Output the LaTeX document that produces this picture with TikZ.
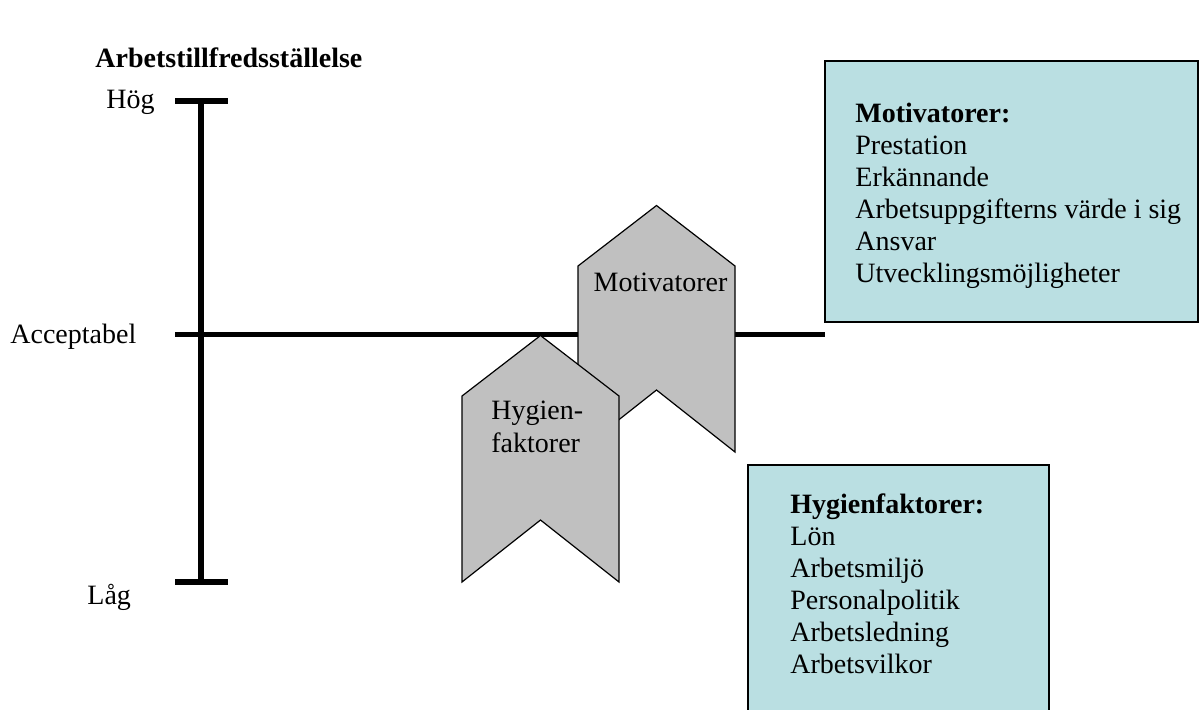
\documentclass[tikz,border=0pt]{standalone}
\usepackage{fontspec}
\setmainfont{Liberation Serif}
\usetikzlibrary{positioning, calc}
\definecolor{chevgray}{RGB}{192, 192, 192}
\definecolor{boxcyan}{RGB}{186, 223, 226}
\newcommand{\hzchevron}[3]{%
    \begin{scope}[shift={(#1,#2)}]
        % Chevron body, point up, notch at the bottom
        \filldraw[chevron] (0,0) -- (78.5,-60.5) -- (157,0) -- (157,186)
            -- (78.5,124) -- (0,186) -- cycle;
        \coordinate (#3) at (78.5,93);
    \end{scope}
}

\begin{document}
\begin{tikzpicture}[
    x=0.5pt, y=-0.5pt,
    every node/.style={font=\fontsize{14}{16}\selectfont, inner sep=0pt},
    axis line/.style={line width=2.6pt},
    chevron/.style={fill=chevgray, draw=black, line width=0.6pt},
    info box/.style={fill=boxcyan, draw=black, line width=1pt},
    box text/.style={align=left, anchor=north west}
]
\useasboundingbox (0,0) rectangle (1199,709);
\clip (0,0) rectangle (1199,709);

% =============================================
% Title and scale
% =============================================

\node[font=\fontsize{14}{16}\selectfont\bfseries, anchor=base west] (title)
    at (95,67) {Arbetstillfredsställelse};

\coordinate (hog) at (201,101);
\coordinate (acc) at (201,334.5);
\coordinate (lag) at (201,582);
\coordinate (accend) at (825,334.5);

% Vertical scale with ticks
\draw[axis line] (hog) -- (lag);
\draw[axis line] ($(hog)+(-26,0)$) -- ($(hog)+(27,0)$);
\draw[axis line] ($(lag)+(-26,0)$) -- ($(lag)+(27,0)$);

% Acceptable level
\draw[axis line] ($(acc)+(-26,0)$) -- (accend);

\node[anchor=base west] (hoglbl) at (106,108) {Hög};
\node[anchor=base west] (acclbl) at (10,343) {Acceptabel};
\node[anchor=base west] (laglbl) at (87,604) {Låg};

% =============================================
% Chevrons
% =============================================

\hzchevron{578}{266}{motiv}
\node[anchor=base] (motivlbl) at (660.5,291.7) {Motivatorer};

\hzchevron{462}{396}{hygien}
\node[box text, font=\fontsize{14}{16.5}\selectfont] (hygienlbl)
    at (491,401) {Hygien-\\faktorer};

% =============================================
% Factor lists
% =============================================

\filldraw[info box] (825,61) rectangle (1198,322);
\node[box text] (motivlist) at (855,103)
    {\textbf{Motivatorer:}\\Prestation\\Erkännande\\
     Arbetsuppgifterns värde i sig\\Ansvar\\Utvecklingsmöjligheter};

\filldraw[info box] (748,465) rectangle (1049,720);
\node[box text] (hygienlist) at (790,493)
    {\textbf{Hygienfaktorer:}\\Lön\\Arbetsmiljö\\Personalpolitik\\
     Arbetsledning\\Arbetsvilkor};

\end{tikzpicture}
\end{document}
